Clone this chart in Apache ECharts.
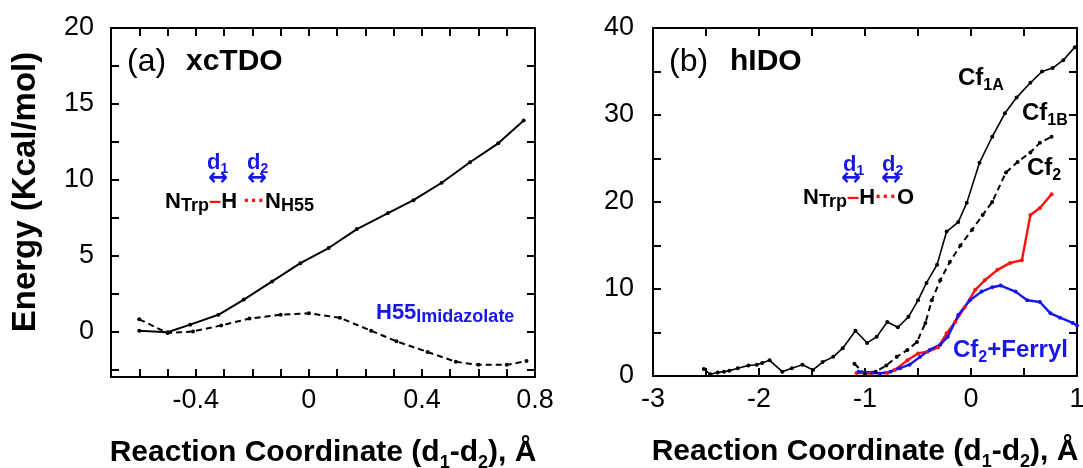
<!DOCTYPE html>
<html>
<head>
<meta charset="utf-8">
<script src="https://cdn.jsdelivr.net/npm/echarts@6/dist/echarts.min.js"></script>
<style>
  html, body { margin: 0; padding: 0; background: #fff; }
  #chart { width: 1083px; height: 468px; }
</style>
</head>
<body>
<div id="chart"></div>
<script>
const FONT = "Liberation Sans";
const BLUE = "#1717e8";
const RED = "#ff1010";

// panel (a) xcTDO
const aSolidX = [-0.6, -0.5, -0.42, -0.32, -0.23, -0.13, -0.03, 0.07, 0.17, 0.28, 0.37, 0.47, 0.57, 0.67, 0.76];
const aSolidY = [0.05, -0.05, 0.45, 1.1, 2.1, 3.3, 4.5, 5.5, 6.75, 7.8, 8.65, 9.8, 11.15, 12.4, 13.9];
const aDashX = [-0.6, -0.5, -0.41, -0.31, -0.21, -0.1, 0, 0.11, 0.22, 0.31, 0.42, 0.52, 0.6, 0.7, 0.77];
const aDashY = [0.8, -0.1, 0, 0.4, 0.85, 1.1, 1.2, 0.9, 0.05, -0.65, -1.35, -2.0, -2.2, -2.2, -1.95];
const aXTicks = [-0.6, -0.5, -0.4, -0.3, -0.2, -0.1, 0, 0.1, 0.2, 0.3, 0.4, 0.5, 0.6, 0.7];
const aXLabels = [-0.4, 0, 0.4, 0.8];
const aYTicks = [-2.5, 0, 2.5, 5, 7.5, 10, 12.5, 15, 17.5, 20];
const aYLabels = [0, 5, 10, 15, 20];

// panel (b) hIDO
const cf1aX = [-2.52, -2.46, -2.39, -2.33, -2.28, -2.2, -2.1, -2.02, -1.97, -1.9, -1.78, -1.69, -1.59, -1.49, -1.4, -1.3, -1.21, -1.09, -0.98, -0.89, -0.79, -0.69, -0.59, -0.5, -0.42, -0.32, -0.23, -0.12, -0.04, 0.08, 0.2, 0.32, 0.43, 0.56, 0.67, 0.77, 0.87, 0.98];
const cf1aY = [0.8, 0.2, 0.4, 0.5, 0.6, 0.9, 1.2, 1.3, 1.5, 1.8, 0.5, 0.9, 1.3, 0.7, 1.6, 2.2, 3.2, 5.2, 3.8, 4.5, 6.2, 5.6, 6.8, 8.7, 10.7, 12.8, 16.6, 17.7, 19.9, 24.5, 27.5, 30.2, 32, 33.7, 35, 35.4, 36.3, 37.8];
const cf1bX = [-1.1, -1.0, -0.9, -0.8, -0.7, -0.6, -0.51, -0.43, -0.37, -0.29, -0.2, -0.1, 0.01, 0.11, 0.2, 0.33, 0.44, 0.56, 0.65, 0.76];
const cf1bY = [1.4, 0.2, 0.5, 1.2, 2.2, 3.0, 3.9, 6.1, 8.7, 11, 13.1, 15, 16.8, 18.5, 20, 23.4, 24.6, 25.7, 26.8, 27.5];
const cf2X = [-1.08, -0.95, -0.79, -0.72, -0.6, -0.5, -0.41, -0.31, -0.23, -0.15, -0.06, 0.04, 0.13, 0.25, 0.37, 0.48, 0.56, 0.65, 0.76];
const cf2Y = [0.35, 0.3, 0.35, 0.7, 1.8, 2.6, 2.8, 3.3, 4.9, 6.2, 7.9, 9.9, 11.0, 12.2, 13.0, 13.3, 18.5, 19.3, 20.9];
const ferrylX = [-1.06, -0.93, -0.86, -0.76, -0.67, -0.58, -0.48, -0.39, -0.29, -0.22, -0.12, -0.01, 0.1, 0.2, 0.28, 0.42, 0.53, 0.65, 0.75, 0.84, 0.96, 1.0];
const ferrylY = [0.5, 0.4, 0.3, 0.5, 0.9, 1.3, 2.2, 3.0, 3.6, 4.5, 7.0, 8.7, 9.7, 10.2, 10.4, 9.7, 8.7, 8.5, 7.2, 6.7, 6.1, 5.8];
const bXTicks = [-2.5, -2, -1.5, -1, -0.5, 0, 0.5];
const bXLabels = [-3, -2, -1, 0, 1];
const bYTicks = [5, 10, 15, 20, 25, 30, 35];
const bYLabels = [0, 10, 20, 30, 40];

const chart = echarts.init(document.getElementById("chart"));

function pts(xs, ys) {
  return xs.map((x, i) => [x, ys[i]]);
}

function axis(gridIndex, min, max, ticks, labels, position, showLabels, margin) {
  return {
    type: "value",
    gridIndex,
    min,
    max,
    position,
    axisLine: { show: true, onZero: false, lineStyle: { color: "#000", width: 2 } },
    axisTick: { show: true, inside: true, length: 8, customValues: ticks, lineStyle: { color: "#000", width: 2 } },
    axisLabel: {
      show: showLabels,
      customValues: labels,
      color: "#000",
      fontFamily: FONT,
      fontSize: 27,
      margin
    },
    splitLine: { show: false }
  };
}

const xTitle = {
  name: "{m|Reaction Coordinate (d}{s|1}{m|-d}{s|2}{m|), Å}",
  nameLocation: "middle",
  nameGap: 61,
  nameTextStyle: {
    rich: {
      m: { fontFamily: FONT, fontSize: 30, fontWeight: "bold", color: "#000", verticalAlign: "top", padding: [0, 0, 4, 0] },
      s: { fontFamily: FONT, fontSize: 18, fontWeight: "bold", color: "#000", verticalAlign: "bottom" }
    }
  }
};

function line(xi, xs, ys, color, dashed, width) {
  return {
    type: "line",
    xAxisIndex: xi,
    yAxisIndex: xi,
    data: pts(xs, ys),
    symbol: "circle",
    symbolSize: 4,
    showSymbol: true,
    itemStyle: { color },
    lineStyle: { color, width: width || 2, type: dashed ? [6, 4] : "solid" }
  };
}

// rich styles for the annotations
const richTags = (size, sub, color) => ({
  n: { fontFamily: FONT, fontSize: size, fontWeight: "bold", fill: color, verticalAlign: "top", padding: [0, 0, 3, 0] },
  s: { fontFamily: FONT, fontSize: sub, fontWeight: "bold", fill: color, verticalAlign: "bottom" },
  r: { fontFamily: FONT, fontSize: size, fontWeight: "bold", fill: RED, verticalAlign: "top", padding: [0, 0, 3, 0] }
});

function label(x, y, text, rich) {
  return {
    type: "text",
    x,
    y,
    silent: true,
    style: { text, rich, align: "left", verticalAlign: "middle", fill: "#000" }
  };
}

function plain(x, y, text, font, fill) {
  return {
    type: "text",
    x,
    y,
    silent: true,
    style: { text, font, fill, align: "left", verticalAlign: "middle" }
  };
}

function arrow(cx, y) {
  return {
    type: "text",
    x: cx,
    y,
    silent: true,
    style: { text: "↔", font: 'bold 24px "DejaVu Sans"', fill: BLUE, align: "center", verticalAlign: "middle" }
  };
}

const dRich = richTags(22, 14, BLUE);
const molRich = richTags(22, 18, "#000");
const cfRich = richTags(24, 16, "#000");
const cfBlueRich = richTags(24, 16, BLUE);
const h55Rich = richTags(22, 18, BLUE);

chart.setOption({
  animation: false,
  backgroundColor: "#fff",
  textStyle: { fontFamily: FONT },
  grid: [
    { left: 111, right: 548, top: 28, bottom: 91, containLabel: false, outerBoundsMode: "none" },
    { left: 653, right: 6, top: 28, bottom: 92, containLabel: false, outerBoundsMode: "none" }
  ],
  xAxis: [
    Object.assign(axis(0, -0.7, 0.8, aXTicks, aXLabels, "bottom", true, 10), xTitle),
    axis(0, -0.7, 0.8, aXTicks, aXLabels, "top", false, 10),
    Object.assign(axis(1, -3, 1, bXTicks, bXLabels, "bottom", true, 10), xTitle),
    axis(1, -3, 1, bXTicks, bXLabels, "top", false, 10)
  ],
  yAxis: [
    axis(0, -3, 20, aYTicks, aYLabels, "left", true, 17),
    axis(0, -3, 20, aYTicks, aYLabels, "right", false, 17),
    axis(1, 0, 40, bYTicks, bYLabels, "left", true, 19),
    axis(1, 0, 40, bYTicks, bYLabels, "right", false, 19)
  ],
  series: [
    line(0, aSolidX, aSolidY, "#000", false),
    line(0, aDashX, aDashY, "#000", true),
    line(2, cf1aX, cf1aY, "#000", false, 1.6),
    line(2, cf1bX, cf1bY, "#000", true),
    line(2, cf2X, cf2Y, RED, false, 2.4),
    line(2, ferrylX, ferrylY, BLUE, false, 2.4)
  ],
  graphic: [
    {
      type: "text",
      x: 26,
      y: 192,
      rotation: Math.PI / 2,
      silent: true,
      style: { text: "Energy (Kcal/mol)", font: 'bold 33px "Liberation Sans"', fill: "#000", align: "center", verticalAlign: "middle" }
    },
    // panel (a)
    plain(127, 62, "(a)", '32px "Liberation Sans"', "#000"),
    plain(186, 62, "xcTDO", 'bold 30px "Liberation Sans"', "#000"),
    label(207, 164, "{n|d}{s|1}", dRich),
    arrow(218, 179),
    label(247, 164, "{n|d}{s|2}", dRich),
    arrow(257, 179),
    label(165, 203, "{n|N}{s|Trp}{r|–}{n|H }{r|···}{n|N}{s|H55}", molRich),
    label(376, 314, "{n|H55}{s|Imidazolate}", h55Rich),
    // panel (b)
    plain(669, 62, "(b)", '32px "Liberation Sans"', "#000"),
    plain(730, 62, "hIDO", 'bold 30px "Liberation Sans"', "#000"),
    label(843, 166, "{n|d}{s|1}", dRich),
    arrow(851, 179),
    label(882, 166, "{n|d}{s|2}", dRich),
    arrow(891, 179),
    label(803, 199, "{n|N}{s|Trp}{r|–}{n|H}{r|···}{n|O}", molRich),
    label(958, 80, "{n|Cf}{s|1A}", cfRich),
    label(1022, 115, "{n|Cf}{s|1B}", cfRich),
    label(1027, 170, "{n|Cf}{s|2}", cfRich),
    label(953, 352, "{n|Cf}{s|2}{n|+Ferryl}", cfBlueRich)
  ]
});
</script>
</body>
</html>
